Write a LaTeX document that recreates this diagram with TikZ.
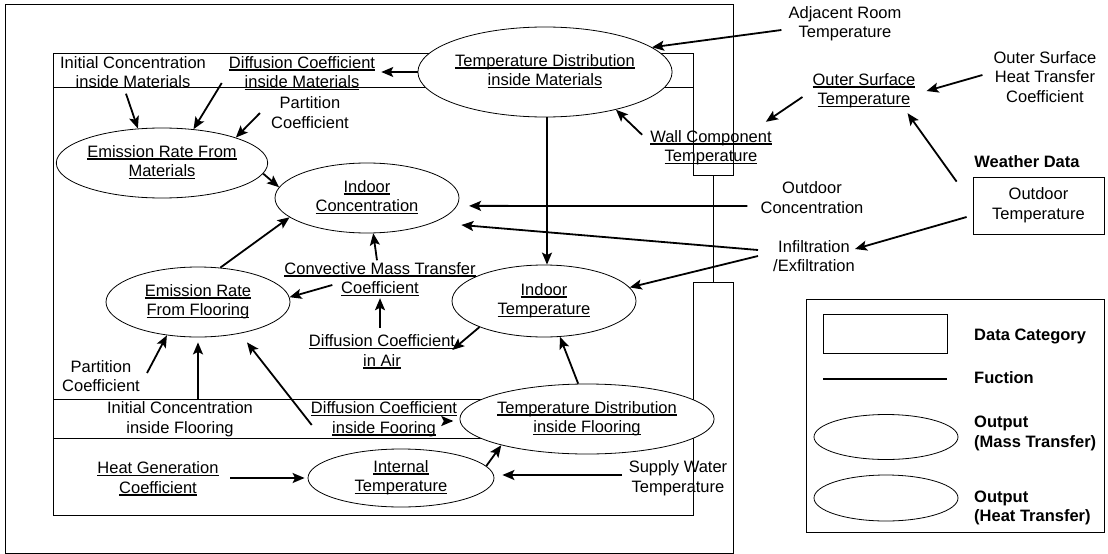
\documentclass[tikz,border=0pt]{standalone}
\usepackage{fontspec}
\setmainfont{Liberation Sans}
\usetikzlibrary{shapes.geometric,arrows.meta}
\newcommand{\ulx}[1]{\strut\setbox0=\hbox{#1}\makebox[0pt][l]{\rule[-2.5pt]{\wd0}{1.2pt}}\box0}
\begin{document}
\begin{tikzpicture}[x=1pt,y=-1pt,
  every node/.style={font=\fontsize{16.5}{19.5}\selectfont},
  lbl/.style={align=center,inner sep=0pt},
  ell/.style={ellipse,draw,fill=white,line width=0.8pt,inner sep=0pt,align=center},
  wall/.style={line width=0.8pt},
  arr/.style={line width=1.8pt,-{Stealth[length=12pt,width=10pt,inset=2.5pt]}},
  bold/.style={font=\fontsize{16.5}{19.5}\selectfont\bfseries}]
\useasboundingbox (0,0) rectangle (1108,554);
% walls and frame
\draw[wall] (713,175) -- (713,282);
\draw[wall] (693,175) -- (733,175) -- (733,4) -- (5,4) -- (5,553) -- (733,553) -- (733,282) -- (693,282) -- (693,515) -- (53,515) -- (53,53) -- (693,53) -- cycle;
\draw[wall] (53,87) -- (693,87);
\draw[wall] (53,399) -- (693,399);
\draw[wall] (53,438) -- (693,438);
% ellipses
\node[ell,minimum width=204pt,minimum height=90pt] (ptm) at (545,72) {\ulx{Temperature Distribution}\\\ulx{inside Materials}};
\node[ell,minimum width=184pt,minimum height=70pt] (erm) at (162,163) {\ulx{Emission Rate From}\\\ulx{Materials}};
\node[ell,minimum width=184pt,minimum height=70pt] (ic) at (367,198) {\ulx{Indoor}\\\ulx{Concentration}};
\node[ell,minimum width=184pt,minimum height=70pt] (erf) at (198,302) {\ulx{Emission Rate}\\\ulx{From Flooring}};
\node[ell,minimum width=184pt,minimum height=72pt] (it) at (544,301) {\ulx{Indoor}\\\ulx{Temperature}};
\node[ell,minimum width=202pt,minimum height=70pt] (tdf) at (587,419) {\ulx{Temperature Distribution}\\\ulx{inside Flooring}};
\node[ell,minimum width=186pt,minimum height=58pt] (int) at (401,478) {\ulx{Internal}\\\ulx{Temperature}};
% text nodes
\node[lbl] (icm) at (133,74) {\strut Initial Concentration\\\strut inside Materials};
\node[lbl] (dcm) at (302,74) {\ulx{Diffusion Coefficient}\\\ulx{inside Materials}};
\node[lbl] (pcm) at (310,114.5) {\strut Partition\\\strut Coefficient};
\node[lbl] (wct) at (711,148) {\ulx{Wall Component}\\\ulx{Temperature}};
\node[lbl] (art) at (845,24) {\strut Adjacent Room\\\strut Temperature};
\node[lbl] (ost) at (864,91) {\ulx{Outer Surface}\\\ulx{Temperature}};
\node[lbl] (ostc) at (1045,79) {\strut Outer Surface\\\strut Heat Transfer\\\strut Coefficient};
\node[bold,inner sep=0pt] (wd) at (1027,162) {Weather Data};
\node[draw,wall,minimum width=131pt,minimum height=57pt,inner sep=0pt,align=center] (wbox) at (1038.5,205.5) {\strut Outdoor\\\strut Temperature};
\node[lbl] (ocn) at (812,199.5) {\strut Outdoor\\\strut Concentration};
\node[lbl] (inf) at (814,258) {\strut Infiltration\\\strut /Exfiltration};
\node[lbl] (cmt) at (380,280) {\ulx{Convective Mass Transfer}\\\ulx{Coefficient}};
\node[lbl] (dca) at (382,352.5) {\ulx{Diffusion Coefficient}\\\ulx{in Air}};
\node[lbl] (pcf) at (101,378) {\strut Partition\\\strut Coefficient};
\node[lbl] (icf) at (180,419.5) {\strut Initial Concentration\\\strut inside Flooring};
\node[lbl] (dcf) at (384,419.5) {\ulx{Diffusion Coefficient}\\\ulx{inside Fooring}};
\node[lbl] (hgc) at (158,479.5) {\ulx{Heat Generation}\\\ulx{Coefficient}};
\node[lbl] (swt) at (678,478.5) {\strut Supply Water\\\strut Temperature};
% legend
\node[draw,wall,minimum width=298pt,minimum height=233pt] (leg) at (955,415.5) {};
\node[draw,wall,minimum width=124pt,minimum height=39pt] (lrect) at (885,333.5) {};
\coordinate (la) at (823,379);
\coordinate (lb) at (947,379);
\draw[line width=1.8pt] (la) -- (lb);
\node[ellipse,draw,wall,minimum width=144pt,minimum height=45pt] (le1) at (886,437) {};
\node[ellipse,draw,wall,minimum width=144pt,minimum height=46pt] (le2) at (886,498) {};
\node[bold,anchor=west,inner sep=0pt] (tdc) at (974,336) {Data Category};
\node[bold,anchor=west,inner sep=0pt] (tfn) at (974,378) {Fuction};
\node[bold,anchor=west,align=left,inner sep=0pt] (tmt) at (974,433.5) {\strut Output\\\strut (Mass Transfer)};
\node[bold,anchor=west,align=left,inner sep=0pt] (tht) at (974,508) {\strut Output\\\strut (Heat Transfer)};
% arrows
\draw[arr] ([xshift=-7pt]icm.south) -- (erm.125.5);
\draw[arr] ([xshift=-7pt,yshift=-9pt]dcm.west) -- (erm.47);
\draw[arr] ([xshift=-11pt,yshift=1.5pt]pcm.west) -- (erm.19);
\draw[arr] (erm.-6.4) -- (ic.173.6);
\draw[arr] (ptm.west) -- ([xshift=6pt,yshift=2pt]dcm.east);
\draw[arr] ([xshift=-7pt,yshift=-6pt]art.west) -- (ptm.13.4);
\draw[arr] ([xshift=-8pt,yshift=-6.5pt]wct.north west) -- (ptm.-28);
\draw[arr] ([xshift=-10pt,yshift=-6pt]ost.west) -- ([xshift=-6pt,yshift=6.5pt]wct.north east);
\draw[arr] ([xshift=-11pt,yshift=4pt]ostc.west) -- ([xshift=11pt]ost.east);
\draw[arr] ([xshift=-16pt,yshift=-5pt]wbox.north west) -- ([xshift=-8pt,yshift=-2.5pt]ost.south east);
\draw[arr] ([xshift=2pt]ptm.south) -- ([xshift=3pt]it.north);
\draw[arr] ([xshift=-13pt,yshift=-6.5pt]ocn.west) -- ([xshift=12pt]ic.-5);
\draw[arr] ([xshift=-15pt,yshift=8pt]inf.west) -- ([xshift=2pt,yshift=-27pt]ic.east);
\draw[arr] ([xshift=-15pt,yshift=2pt]inf.west) -- (it.9.5);
\draw[arr] ([xshift=-6pt,yshift=-11.5pt]wbox.west) -- ([yshift=9pt]inf.east);
\draw[arr] (erf.57.8) -- (ic.194);
\draw[arr] ([xshift=-3pt]cmt.north) -- (ic.-80.5);
\draw[arr] ([xshift=48pt,yshift=-5pt]cmt.west) -- (erf.3);
\draw[arr] ([xshift=-2pt,yshift=5pt]dca.north) -- ([yshift=1.5pt]cmt.south);
\draw[arr] (it.202) -- ([xshift=-3pt,yshift=2.5pt]dca.east);
\draw[arr] ([xshift=7pt,yshift=5pt]pcf.east) -- (erf.227.5);
\draw[arr] ([xshift=18pt]icf.north) -- ([yshift=-5pt]erf.south);
\draw[arr] ([xshift=1pt,yshift=-5.5pt]dcf.west) -- ([xshift=49pt,yshift=-5pt]erf.south);
\draw[arr] (tdf.104.8) -- (it.-66.6);
\draw[arr] ([xshift=-8pt,yshift=-2pt]tdf.west) -- ([xshift=-4pt,yshift=-1.5pt]dcf.east);
\draw[arr] (int.8.8) -- (tdf.197.7);
\draw[arr] ([xshift=11.5pt,yshift=1.5pt]hgc.east) -- ([xshift=-3pt]int.west);
\draw[arr] ([xshift=-6.5pt,yshift=3.5pt]swt.west) -- ([xshift=8pt,yshift=3pt]int.east);
\end{tikzpicture}
\end{document}
